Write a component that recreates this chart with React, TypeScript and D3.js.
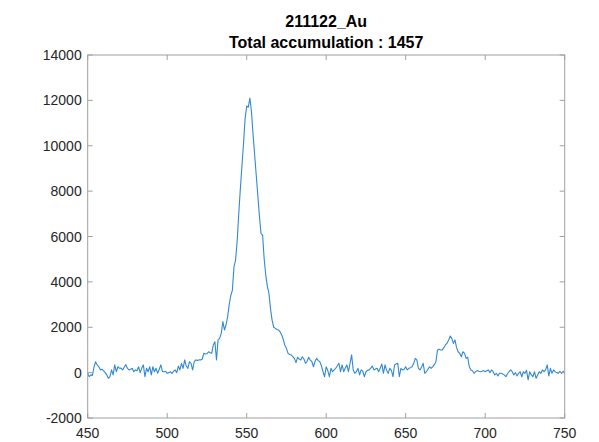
import React from "react";
import * as d3 from "d3";

const title1 = "211122_Au";
const title2 = "Total accumulation : 1457";
const xTicks = [450, 500, 550, 600, 650, 700, 750];
const yTicks = [-2000, 0, 2000, 4000, 6000, 8000, 10000, 12000, 14000];
const wavelengthStart = 450;
// intensity sampled at 1 nm steps from 450 to 750
const intensity = [
  -30, -180, -100, -120, 260, 480, 330, 260, 120, 150,
  80, 0, -100, -250, -180, 120, -100, 340, 40, 260,
  190, 200, 120, 250, 350, 190, 120, 150, 190, 40,
  120, 80, 260, 0, 200, 340, -180, 190, 40, 260,
  -100, 260, 40, 190, -30, 150, 340, 40, 40, 60,
  -30, 0, 40, -30, 60, 120, 0, 290, 120, 410,
  190, 560, 290, 190, 480, 410, 120, 480, 560, 540,
  560, 560, 590, 850, 820, 830, 920, 880, 850, 1220,
  1360, 560, 1440, 1510, 1730, 2250, 1880, 2100, 2460, 3000,
  3400, 3640, 4660, 4960, 5800, 7000, 8100, 9100, 10100, 11200,
  11750, 11700, 12100, 11500, 10500, 9600, 8700, 7800, 6900, 6130,
  6060, 5000, 4300, 3800, 3490, 2800, 2300, 2000, 1950, 1900,
  1880, 1800, 1660, 1470, 1200, 1070, 850, 800, 780, 700,
  630, 440, 680, 600, 560, 700, 600, 410, 500, 680,
  550, 480, 260, 500, 630, 530, 480, 300, 40, -180,
  260, 90, -180, 190, 40, 120, 190, 300, 410, 40,
  340, 40, 200, 340, 40, 410, 780, 120, -30, 40,
  190, -100, 120, 60, -180, 40, 100, 120, 200, 290,
  120, 160, 190, 40, 200, 380, -30, 340, 100, -30,
  190, 100, -180, 340, 380, 410, -180, 190, 120, 150,
  260, 120, 190, 220, 260, 400, 630, 560, 190, 120,
  250, 410, -30, 40, 150, 260, 190, 260, 350, 480,
  1000, 1030, 1000, 1000, 1100, 1220, 1300, 1440, 1610, 1510,
  1290, 1440, 1100, 920, 850, 700, 920, 850, 630, 680,
  260, 120, 80, -30, 40, 90, 60, 40, 60, 90,
  40, 80, 120, 0, 120, 40, -100, -30, -150, -30,
  -30, -60, -100, -180, -50, 40, 120, 40, -100, 0,
  -150, -30, 40, -180, 40, -30, 100, -320, 40, -100,
  -180, 40, -250, -100, 40, -30, 120, 40, 120, 340,
  -150, 190, -30, 120, 40, 0, -30, 60, -30, 60,
  -30,
];

const W = 599;
const H = 442;
const left = 87.7;
const right = 564.7;
const top = 55;
const bottom = 418;
const axisColor = "#a0a0a0";
const textColor = "#262626";
const font = "'Liberation Sans', Arial, sans-serif";

export default function App() {
  const x = d3.scaleLinear().domain([450, 750]).range([left, right]);
  const y = d3.scaleLinear().domain([-2000, 14000]).range([bottom, top]);
  const pts: [number, number][] = intensity.map((v, i) => [wavelengthStart + i, v]);
  const line = d3
    .line<[number, number]>()
    .x((d) => x(d[0]))
    .y((d) => y(d[1]));
  const tl = 5;
  return (
    <svg
      width={W}
      height={H}
      style={{ position: "absolute", left: 0, top: 0, background: "#fff" }}
      fontFamily={font}
    >
      <rect x={0} y={0} width={W} height={H} fill="#fff" />
      <path d={line(pts) || ""} fill="none" stroke="#3189d3" strokeWidth={1.1} strokeLinejoin="round" />
      <rect x={left} y={top} width={right - left} height={bottom - top} fill="none" stroke={axisColor} strokeWidth={1} />
      {xTicks.map((t) => (
        <g key={"x" + t}>
          <line x1={x(t)} x2={x(t)} y1={bottom} y2={bottom - tl} stroke={axisColor} />
          <line x1={x(t)} x2={x(t)} y1={top} y2={top + tl} stroke={axisColor} />
          <text x={x(t)} y={bottom + 20} textAnchor="middle" fontSize={14} fill={textColor}>
            {t}
          </text>
        </g>
      ))}
      {yTicks.map((t) => (
        <g key={"y" + t}>
          <line x1={left} x2={left + tl} y1={y(t)} y2={y(t)} stroke={axisColor} />
          <line x1={right} x2={right - tl} y1={y(t)} y2={y(t)} stroke={axisColor} />
          <text x={left - 6} y={y(t) + 5} textAnchor="end" fontSize={14} fill={textColor}>
            {t}
          </text>
        </g>
      ))}
      <text x={(left + right) / 2} y={27} textAnchor="middle" fontSize={16} fontWeight="bold" fill="#000">
        {title1}
      </text>
      <text x={(left + right) / 2} y={48} textAnchor="middle" fontSize={16} fontWeight="bold" fill="#000">
        {title2}
      </text>
    </svg>
  );
}
